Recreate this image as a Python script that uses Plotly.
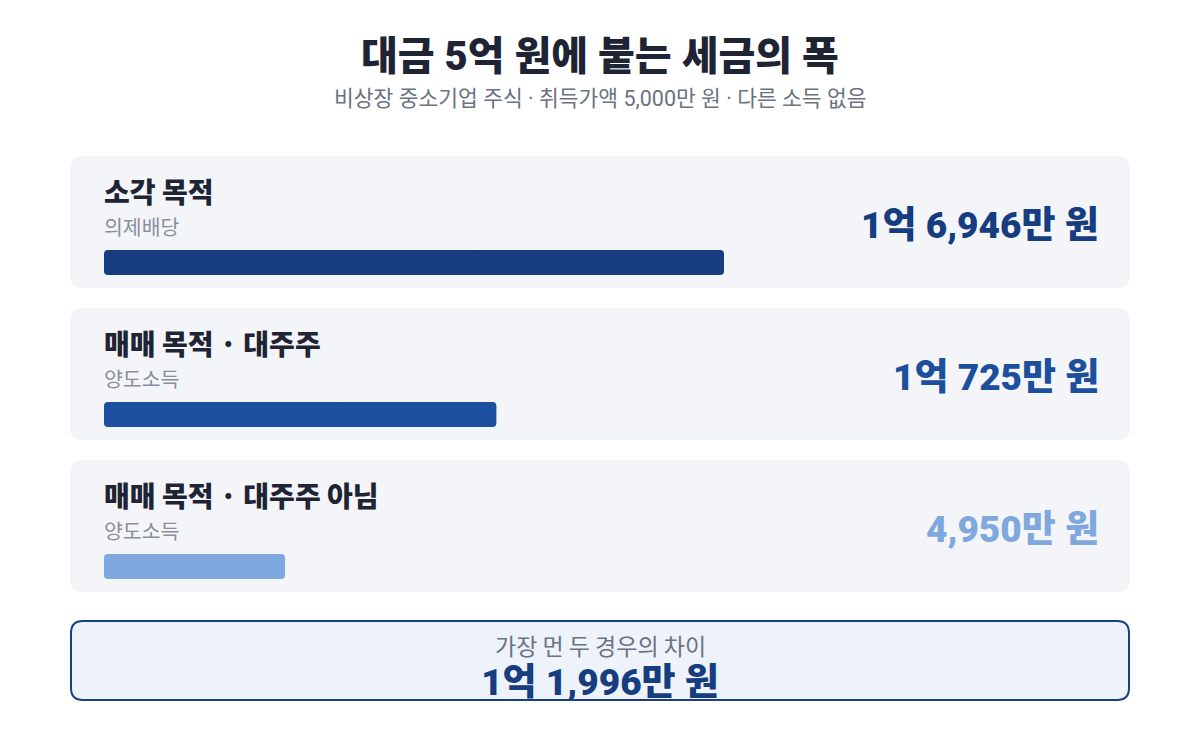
import plotly.graph_objects as go

# ---- data (만 원 단위) ----
cases = ["소각 목적", "매매 목적 · 대주주", "매매 목적 · 대주주 아님"]
tax_types = ["의제배당", "양도소득", "양도소득"]
tax_values = [16946, 10725, 4950]
bar_colors = ["#163d80", "#1c4f9e", "#7fa8df"]

title = "대금 5억 원에 붙는 세금의 폭"
subtitle = "비상장 중소기업 주식 · 취득가액 5,000만 원 · 다른 소득 없음"
diff_label = "가장 먼 두 경우의 차이"

W, H = 1200, 740
FONT = "Roboto, 'Noto Sans CJK KR', sans-serif"
KFONT = "'Noto Sans CJK KR', sans-serif"


def fmt_won(v):
    eok, man = divmod(int(v), 10000)
    parts = []
    if eok:
        parts.append(f"{eok}억")
    if man:
        parts.append(f"{man:,}만")
    return " ".join(parts) + " 원"


# layout constants (pixels)
card_x0, card_x1 = 70, 1130
card_top0, card_h, card_gap = 156, 132, 20
bar_x0, bar_x1 = 104, 724
bar_h = 25

fig = go.Figure()

card_tops = [card_top0 + i * (card_h + card_gap) for i in range(len(cases))]
bar_centers = [t + 106.5 for t in card_tops]

# each bar drawn as two overlapping halves so both ends get rounded corners
fig.add_trace(go.Bar(
    x=[0.6 * v for v in tax_values], base=[0.4 * v for v in tax_values],
    y=bar_centers, orientation="h", width=bar_h,
    marker=dict(color=bar_colors, line=dict(width=0)),
    xaxis="x", yaxis="y", hoverinfo="skip", showlegend=False,
))
fig.add_trace(go.Bar(
    x=[-0.6 * v for v in tax_values], base=[0.6 * v for v in tax_values],
    y=bar_centers, orientation="h", width=bar_h,
    marker=dict(color=bar_colors, line=dict(width=0)),
    xaxis="x", yaxis="y", hoverinfo="skip", showlegend=False,
))


def rrect(x0, y0, x1, y1, r, paper=False):
    def P(x, y):
        if paper:
            return f"{x / W:.6f},{1 - y / H:.6f}"
        return f"{x},{y}"
    return (f"M {P(x0+r, y0)} L {P(x1-r, y0)} Q {P(x1, y0)} {P(x1, y0+r)} "
            f"L {P(x1, y1-r)} Q {P(x1, y1)} {P(x1-r, y1)} L {P(x0+r, y1)} "
            f"Q {P(x0, y1)} {P(x0, y1-r)} L {P(x0, y0+r)} Q {P(x0, y0)} {P(x0+r, y0)} Z")


shapes = []
for t in card_tops:
    shapes.append(dict(type="path", path=rrect(card_x0, t, card_x1, t + card_h, 12, True),
                       xref="paper", yref="paper", fillcolor="#f4f5f9", line=dict(width=0),
                       layer="below"))

# difference box
box_y0, box_y1 = 621, 700
shapes.append(dict(type="path", path=rrect(card_x0 + 1, box_y0, card_x1 - 1, box_y1, 12, True),
                   xref="paper", yref="paper", fillcolor="#eef3fb", line=dict(width=0),
                   layer="below"))
# clipping strip & border above the big number
shapes.append(dict(type="rect", x0=card_x0 + 12, x1=card_x1 - 12, y0=box_y1 + 1, y1=box_y1 + 14,
                   xref="x2", yref="y", fillcolor="white", line=dict(width=0), layer="above"))
shapes.append(dict(type="path", path=rrect(card_x0 + 1, box_y0, card_x1 - 1, box_y1, 12),
                   xref="x2", yref="y", fillcolor="rgba(0,0,0,0)",
                   line=dict(color="#1a3f85", width=2), layer="above"))

diff = max(tax_values) - min(tax_values)
fig.add_trace(go.Scatter(
    x=[600], y=[686], mode="text", text=[fmt_won(diff)],
    textfont=dict(family=FONT, size=37, color="#163d80", weight=900),
    textposition="middle center", xaxis="x2", yaxis="y",
    hoverinfo="skip", showlegend=False, cliponaxis=False,
))

ann = []


def A(x, y, text, size, color, weight=400, xanchor="left", family=KFONT):
    ann.append(dict(x=x / W, y=1 - y / H, xref="paper", yref="paper", text=text,
                    showarrow=False, xanchor=xanchor, yanchor="middle",
                    font=dict(family=family, size=size, color=color, weight=weight)))


A(600, 57, title, 40, "#1e2433", 900, "center", FONT)
A(600, 99, subtitle, 21.5, "#6b7280", 400, "center", FONT)
for t, c, tt, v, col in zip(card_tops, cases, tax_types, tax_values, bar_colors):
    A(102, t + 35, c, 28, "#1e2433", 900)
    A(102, t + 70, tt, 20.5, "#8a8f9c", 400)
    A(1101, t + 69, fmt_won(v), 37, col, 900, "right", FONT)
A(600, 645, diff_label, 23, "#6b7280", 400, "center")

fig.update_layout(
    width=W, height=H, margin=dict(l=0, r=0, t=0, b=0),
    paper_bgcolor="white", plot_bgcolor="rgba(0,0,0,0)",
    barcornerradius=4, barmode="overlay",
    xaxis=dict(domain=[bar_x0 / W, bar_x1 / W], range=[0, max(tax_values)],
               visible=False, fixedrange=True, anchor="y"),
    xaxis2=dict(domain=[0, 1], range=[0, W], visible=False, fixedrange=True, anchor="y"),
    yaxis=dict(domain=[0, 1], range=[H, 0], visible=False, fixedrange=True),
    shapes=shapes, annotations=ann,
)

fig.write_html("out.html", config={"displayModeBar": False},
               post_script="document.body.style.margin='0';")
